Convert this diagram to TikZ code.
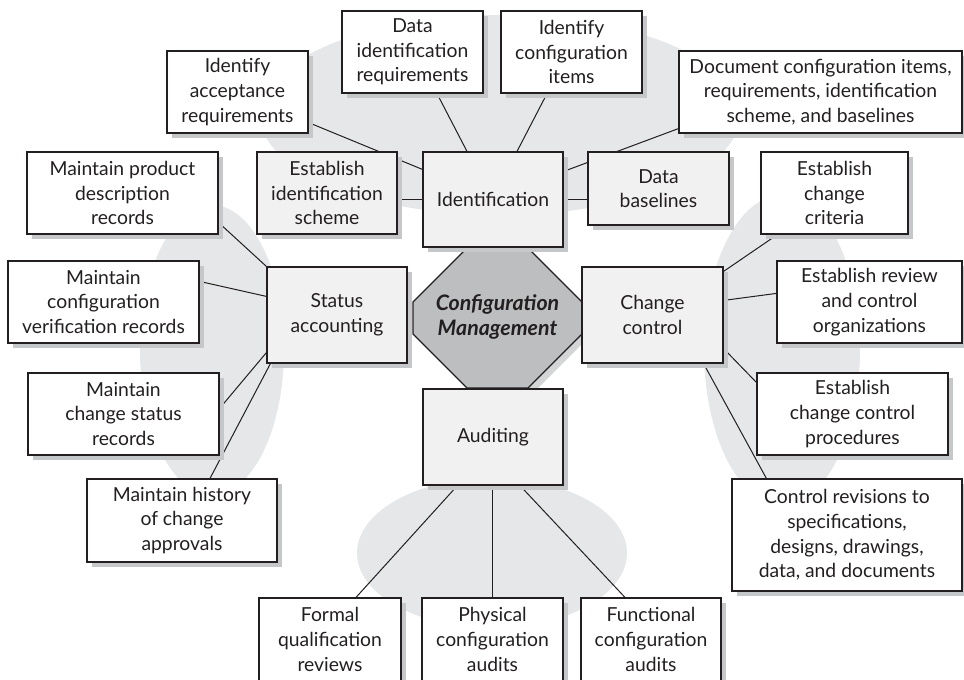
\documentclass[tikz,border=0pt]{standalone}
\usepackage{fontspec}
\setmainfont{Lato}
\usetikzlibrary{calc,shadows}
\definecolor{blobc}{HTML}{E6E7E8}
\definecolor{hubc}{HTML}{F1F1F2}
\definecolor{shadec}{HTML}{C6C7C8}
\definecolor{octac}{HTML}{BCBEC0}
\definecolor{octshade}{HTML}{D4D5D7}
\definecolor{inkc}{HTML}{231F20}
\pgfdeclarelayer{blobs}
\pgfdeclarelayer{links}
\pgfsetlayers{blobs,links,main}
\newcommand\mkbox[7]{\node[#1, minimum width={(#5-#3)*0.75pt}, minimum height={(#6-#4)*0.75pt}] (#2) at ({(#3+#5)/2},{(#4+#6)/2}) {#7};}
\begin{document}
\begin{tikzpicture}[x=0.75pt,y=-0.75pt,
  boxbase/.style={draw=inkc, line width=0.9pt, inner sep=0pt, align=center,
    font=\fontsize{14.5}{18.5}\selectfont, text=inkc,
    drop shadow={shadow xshift=3.75pt, shadow yshift=-3.75pt, fill=shadec, opacity=1}},
  hubbox/.style={boxbase, fill=hubc},
  leafbox/.style={boxbase, fill=white},
  link/.style={draw=inkc, line width=0.75pt},
  blob/.style={fill=blobc, draw=none}]
\useasboundingbox (0,0) rectangle (964,679);
% background blobs
\begin{pgfonlayer}{blobs}
\fill[blob] (500,115) ellipse [x radius=240, y radius=100];
\fill[blob] (212,350) ellipse [x radius=72, y radius=145];
\fill[blob] (782,350) ellipse [x radius=78, y radius=155];
\fill[blob] (492,553) ellipse [x radius=135, y radius=75];
\end{pgfonlayer}
% octagon
\fill[octshade] (472,253)--(533,253)--(587,307)--(587,339)--(533,393)--(472,393)--(418,339)--(418,307)--cycle;
\draw[fill=octac, draw=inkc, line width=0.9pt] (467,248)--(528,248)--(582,302)--(582,334)--(528,388)--(467,388)--(413,334)--(413,302)--cycle;
\node[font=\fontsize{16}{18.5}\selectfont\bfseries\itshape, text=inkc, align=center] (cm) at (497.5,317) {Configuration\\Management};
% hubs
\mkbox{hubbox}{idn}{423}{152}{563}{247}{Identification}
\mkbox{hubbox}{eis}{257}{152}{397}{234}{Establish\\identification\\scheme}
\mkbox{hubbox}{dbl}{588}{152}{729}{225}{Data\\baselines}
\mkbox{hubbox}{sta}{267}{267}{407}{363}{Status\\accounting}
\mkbox{hubbox}{cc}{582}{267}{723}{363}{Change\\control}
\mkbox{hubbox}{aud}{423}{389}{563}{485}{Auditing}
% leaves
\mkbox{leafbox}{acc}{167}{51}{308}{133}{Identify\\acceptance\\requirements}
\mkbox{leafbox}{did}{342}{11}{483}{93}{Data\\identification\\requirements}
\mkbox{leafbox}{ici}{501}{11}{642}{93}{Identify\\configuration\\items}
\mkbox{leafbox}{doc}{679}{51}{962}{133}{Document configuration items,\\requirements, identification\\scheme, and baselines}
\mkbox{leafbox}{pdr}{27}{152}{218}{234}{Maintain product\\description\\records}
\mkbox{leafbox}{cvr}{8}{261}{199}{343}{Maintain\\configuration\\verification records}
\mkbox{leafbox}{csr}{28}{373}{219}{455}{Maintain\\change status\\records}
\mkbox{leafbox}{hca}{87}{479}{277}{562}{Maintain history\\of change\\approvals}
\mkbox{leafbox}{ecc}{761}{152}{908}{234}{Establish\\change\\criteria}
\mkbox{leafbox}{erc}{777}{261}{962}{343}{Establish review\\and control\\organizations}
\mkbox{leafbox}{ecp}{757}{373}{948}{455}{Establish\\change control\\procedures}
\mkbox{leafbox}{crv}{732}{479}{962}{591}{Control revisions to\\specifications,\\designs, drawings,\\data, and documents}
\mkbox{leafbox}{fqr}{259}{598}{401}{681}{Formal\\qualification\\reviews}
\mkbox{leafbox}{pca}{422}{598}{563}{681}{Physical\\configuration\\audits}
\mkbox{leafbox}{fca}{581}{598}{721}{681}{Functional\\configuration\\audits}
% connectors
\begin{pgfonlayer}{links}
\draw[link] ($(acc.south east)+(0,-11)$) -- ($(idn.north west)+(0,18)$);
\draw[link] (eis.east |- idn.west) -- (idn.west);
\draw[link] ($(did.south)+(24.5,0)$) -- ($(idn.north)+(-26,0)$);
\draw[link] ($(ici.south)+(-24.5,0)$) -- ($(idn.north)+(24,0)$);
\draw[link] ($(doc.south west)+(0,-5)$) -- ($(idn.north east)+(0,20)$);
\draw[link] (dbl.west |- idn.east) -- (idn.east);
\draw[link] ($(pdr.south east)+(0,-12)$) -- (sta.north west);
\draw[link] ($(cvr.north east)+(0,21)$) -- ($(sta.north west)+(0,30)$);
\draw[link] ($(csr.north east)+(0,36)$) -- ($(sta.south west)+(0,-11)$);
\draw[link] ($(hca.north)+(28,0)$) -- ($(sta.south west)+(4,0)$);
\draw[link] ($(cc.north east)+(0,5)$) -- ($(ecc.south west)+(17,0)$);
\draw[link] ($(cc.north east)+(0,34)$) -- ($(erc.north west)+(0,33)$);
\draw[link] ($(cc.south east)+(0,-15)$) -- ($(ecp.north west)+(0,10)$);
\draw[link] ($(cc.south east)+(-20,0)$) -- ($(crv.north west)+(35,0)$);
\draw[link] ($(aud.south west)+(35,0)$) -- ($(fqr.north)+(26,0)$);
\draw[link] (aud.south -| pca.north) -- (pca.north);
\draw[link] ($(aud.south)+(27,0)$) -- ($(fca.north)+(-26,0)$);
\end{pgfonlayer}
\end{tikzpicture}
\end{document}
